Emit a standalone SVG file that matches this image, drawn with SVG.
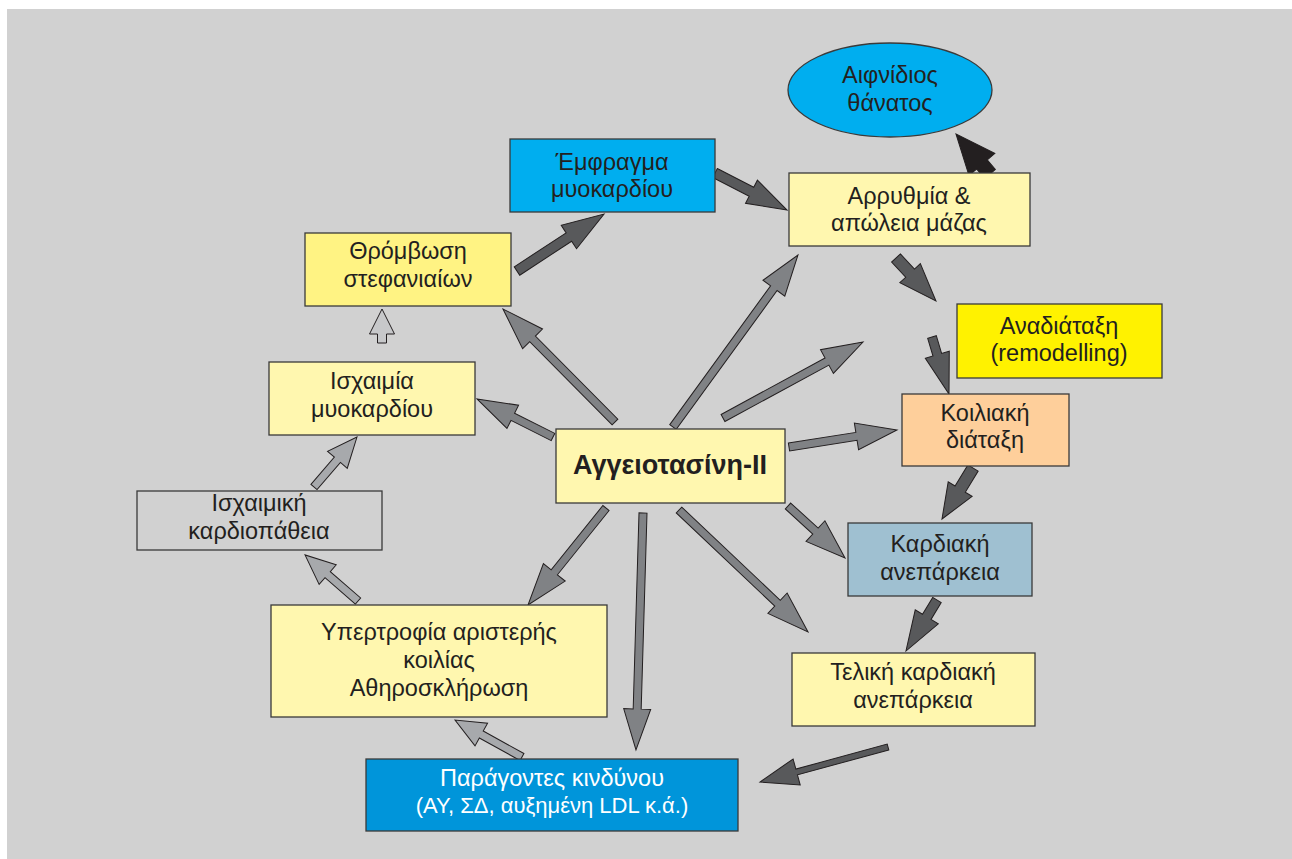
<svg xmlns="http://www.w3.org/2000/svg" width="1292" height="859" viewBox="0 0 1292 859">
<style>
.box{stroke:#3a3a3a;stroke-width:1.3}
.t{font-family:"Liberation Sans",Arial,sans-serif;font-size:23.5px;fill:#231f20;text-anchor:middle}
.w{fill:#ffffff}
.a{stroke:#231f20;stroke-width:1;stroke-linejoin:miter}
.dk{fill:#58595b}
.md{fill:#808285}
.lt{fill:#a7a9ac}
.xl{fill:#c7c8ca}
.bk{fill:#231f20}
</style>
<rect x="0" y="0" width="1292" height="859" fill="#ffffff"/>
<rect x="7" y="9" width="1285" height="850" fill="#d1d1d1"/>
<g id="connectors">
<polygon class="a dk" transform="translate(517,271) rotate(-33.2)" points="0,-5 62,-5 62,-14 104,0 62,14 62,5 0,5"/>
<polygon class="a dk" transform="translate(715,173) rotate(27.2)" points="0,-5 41,-5 41,-13 81,0 41,13 41,5 0,5"/>
<polygon class="a bk" transform="translate(990,174) rotate(-130.4)" points="0,-7 12.5,-7 12.5,-17 52.5,0 12.5,17 12.5,7 0,7"/>
<polygon class="a dk" transform="translate(896,258) rotate(47.1)" points="0,-6 20.7,-6 20.7,-14 58.7,0 20.7,14 20.7,6 0,6"/>
<polygon class="a dk" transform="translate(932,337) rotate(73.4)" points="0,-4.5 18.5,-4.5 18.5,-12.5 59.5,0 18.5,12.5 18.5,4.5 0,4.5"/>
<polygon class="a dk" transform="translate(973,468) rotate(121.3)" points="0,-6 24.7,-6 24.7,-14 59.7,0 24.7,14 24.7,6 0,6"/>
<polygon class="a dk" transform="translate(937,600) rotate(121.3)" points="0,-5 19.7,-5 19.7,-13.5 59.7,0 19.7,13.5 19.7,5 0,5"/>
<polygon class="a dk" transform="translate(888,747) rotate(164.7)" points="0,-3 94.7,-3 94.7,-13.5 132.7,0 94.7,13.5 94.7,3 0,3"/>
<polygon class="a md" transform="translate(615,422) rotate(-134.75)" points="0,-4 117.1,-4 117.1,-14 159.1,0 117.1,14 117.1,4 0,4"/>
<polygon class="a md" transform="translate(553,437) rotate(-153.4)" points="0,-4 45,-4 45,-13 85,0 45,13 45,4 0,4"/>
<polygon class="a md" transform="translate(673,427) rotate(-54)" points="0,-4 171.6,-4 171.6,-13.5 212.6,0 171.6,13.5 171.6,4 0,4"/>
<polygon class="a md" transform="translate(723,418) rotate(-28.5)" points="0,-4 118.3,-4 118.3,-13.5 159.3,0 118.3,13.5 118.3,4 0,4"/>
<polygon class="a md" transform="translate(789,447) rotate(-8.95)" points="0,-4 68.3,-4 68.3,-13.5 109.3,0 68.3,13.5 68.3,4 0,4"/>
<polygon class="a md" transform="translate(788,506) rotate(42.4)" points="0,-4 37.2,-4 37.2,-14 77.2,0 37.2,14 37.2,4 0,4"/>
<polygon class="a md" transform="translate(679,510) rotate(43.4)" points="0,-4 135.6,-4 135.6,-14 177.6,0 135.6,14 135.6,4 0,4"/>
<polygon class="a md" transform="translate(643,513) rotate(91.7)" points="0,-4 196.1,-4 196.1,-13.5 237.1,0 196.1,13.5 196.1,4 0,4"/>
<polygon class="a md" transform="translate(606,508) rotate(128.8)" points="0,-4 82.5,-4 82.5,-14 124.5,0 82.5,14 82.5,4 0,4"/>
<polygon class="a lt" transform="translate(314,487) rotate(-49.3)" points="0,-4 35.9,-4 35.9,-13 65.9,0 35.9,13 35.9,4 0,4"/>
<polygon class="a lt" transform="translate(358,601) rotate(-139)" points="0,-4 40.2,-4 40.2,-13 70.2,0 40.2,13 40.2,4 0,4"/>
<polygon class="a lt" transform="translate(522,757) rotate(-151.1)" points="0,-4 46.5,-4 46.5,-13 76.5,0 46.5,13 46.5,4 0,4"/>
<polygon class="a xl" transform="translate(382,343) rotate(-90)" points="0,-4.5 9,-4.5 9,-12.5 34,0 9,12.5 9,4.5 0,4.5"/>
</g>
<g id="n-sudden-death">
<ellipse class="box" cx="890" cy="90" rx="102" ry="47" fill="#00aeef"/>
<text class="t" x="890" y="83">Αιφνίδιος</text>
<text class="t" x="890" y="111">θάνατος</text>
</g>
<g id="n-infarction">
<rect class="box" x="510" y="139" width="205" height="73" fill="#00aeef"/>
<text class="t" x="612" y="170">Έμφραγμα</text>
<text class="t" x="612" y="197">μυοκαρδίου</text>
</g>
<g id="n-arrhythmia">
<rect class="box" x="789" y="173" width="241" height="73" fill="#fff7af"/>
<text class="t" x="909" y="204">Αρρυθμία &amp;</text>
<text class="t" x="909" y="231">απώλεια μάζας</text>
</g>
<g id="n-thrombosis">
<rect class="box" x="305" y="233" width="206" height="73" fill="#fff383"/>
<text class="t" x="408" y="259">Θρόμβωση</text>
<text class="t" x="408" y="287">στεφανιαίων</text>
</g>
<g id="n-ischemia">
<rect class="box" x="269" y="362" width="206" height="73" fill="#fff7af"/>
<text class="t" x="372" y="389">Ισχαιμία</text>
<text class="t" x="372" y="417">μυοκαρδίου</text>
</g>
<g id="n-ihd">
<rect class="box" x="137" y="491" width="245" height="59" fill="#d1d1d1"/>
<text class="t" x="259" y="511">Ισχαιμική</text>
<text class="t" x="259" y="539">καρδιοπάθεια</text>
</g>
<g id="n-angiotensin">
<rect class="box" x="556" y="429" width="229" height="74" fill="#fff7af"/>
<text class="t" x="670" y="474" style="font-weight:bold;font-size:27px">Αγγειοτασίνη-ΙΙ</text>
</g>
<g id="n-remodelling">
<rect class="box" x="957" y="304" width="205" height="74" fill="#fff200"/>
<text class="t" x="1059" y="334">Αναδιάταξη</text>
<text class="t" x="1059" y="361">(remodelling)</text>
</g>
<g id="n-dilation">
<rect class="box" x="902" y="394" width="167" height="72" fill="#fecf9b"/>
<text class="t" x="985" y="421">Κοιλιακή</text>
<text class="t" x="985" y="448">διάταξη</text>
</g>
<g id="n-hf">
<rect class="box" x="848" y="523" width="184" height="73" fill="#9fc0d1"/>
<text class="t" x="940" y="552">Καρδιακή</text>
<text class="t" x="940" y="580">ανεπάρκεια</text>
</g>
<g id="n-endhf">
<rect class="box" x="792" y="653" width="243" height="73" fill="#fff7af"/>
<text class="t" x="913" y="680">Τελική καρδιακή</text>
<text class="t" x="913" y="708">ανεπάρκεια</text>
</g>
<g id="n-lvh">
<rect class="box" x="271" y="605" width="336" height="112" fill="#fff7af"/>
<text class="t" x="439" y="640">Υπερτροφία αριστερής</text>
<text class="t" x="439" y="668">κοιλίας</text>
<text class="t" x="439" y="696">Αθηροσκλήρωση</text>
</g>
<g id="n-risk">
<rect class="box" x="366" y="759" width="372" height="72" fill="#0095da"/>
<text class="t w" x="552" y="786">Παράγοντες κινδύνου</text>
<text class="t w" x="552" y="813" style="font-size:22px">(ΑΥ, ΣΔ, αυξημένη LDL κ.ά.)</text>
</g>
</svg>
